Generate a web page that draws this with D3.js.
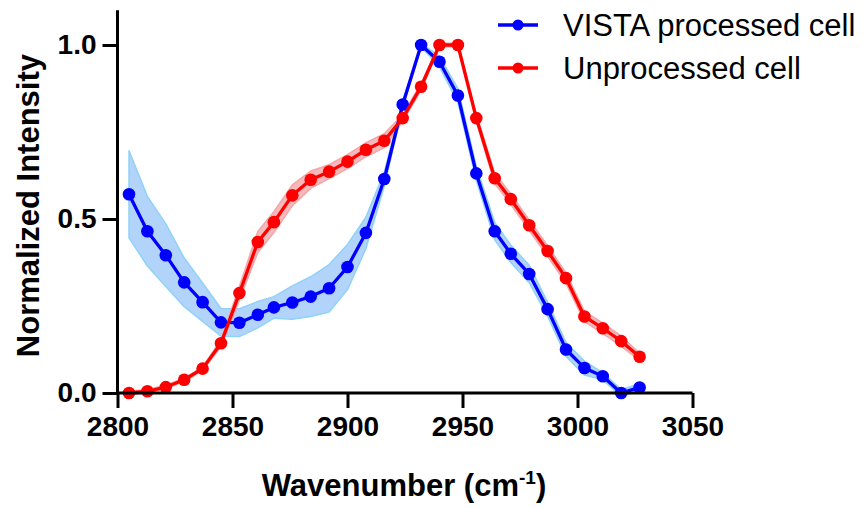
<!DOCTYPE html>
<html>
<head>
<meta charset="utf-8">
<script src="https://cdn.jsdelivr.net/npm/d3@7"></script>
<style>
  html, body { margin: 0; padding: 0; background: #fff; }
  svg { display: block; }
  text { font-family: "Liberation Sans", Arial, sans-serif; }
</style>
</head>
<body>
<svg id="chart" width="865" height="508"></svg>
<script>
// Raman spectra (C-H stretch region), mean ± SD
const wavenumbers = [2805, 2813, 2821, 2829, 2837, 2845, 2853, 2861, 2868, 2876,
                     2884, 2892, 2900, 2908, 2916, 2924, 2932, 2940, 2948, 2956,
                     2964, 2971, 2979, 2987, 2995, 3003, 3011, 3019, 3027];

const vistaMean = [0.571, 0.465, 0.396, 0.318, 0.261, 0.203, 0.202, 0.225, 0.246, 0.260,
                   0.277, 0.301, 0.362, 0.460, 0.615, 0.829, 1.000, 0.952, 0.855, 0.631,
                   0.465, 0.400, 0.342, 0.241, 0.125, 0.072, 0.048, 0.000, 0.016];
const vistaSD   = [0.125, 0.100, 0.090, 0.070, 0.055, 0.040, 0.040, 0.038, 0.031, 0.048,
                   0.057, 0.068, 0.065, 0.045, 0.020, 0.010, 0.005, 0.015, 0.020, 0.020,
                   0.025, 0.025, 0.025, 0.020, 0.020, 0.020, 0.010, 0.010, 0.010];

const rawMean = [0.000, 0.005, 0.017, 0.038, 0.070, 0.143, 0.287, 0.434, 0.491, 0.568,
                 0.613, 0.636, 0.665, 0.699, 0.725, 0.790, 0.880, 1.000, 1.000, 0.790,
                 0.617, 0.557, 0.482, 0.408, 0.330, 0.220, 0.186, 0.149, 0.104];
const rawSD   = [0.005, 0.005, 0.005, 0.005, 0.005, 0.010, 0.020, 0.030, 0.030, 0.030,
                 0.025, 0.020, 0.020, 0.020, 0.020, 0.010, 0.010, 0.005, 0.005, 0.010,
                 0.015, 0.015, 0.015, 0.015, 0.015, 0.015, 0.015, 0.015, 0.010];

const xTicks = [2800, 2850, 2900, 2950, 3000, 3050];
const yTicks = [0.0, 0.5, 1.0];
const seriesNames = ["VISTA processed cell", "Unprocessed cell"];

const svg = d3.select("#chart");

const x = d3.scaleLinear().domain([2800, 3050]).range([117.5, 692.5]);
const y = d3.scaleLinear().domain([0, 1.1]).range([393, 10.2]);

const series = [
  { name: seriesNames[0], mean: vistaMean, sd: vistaSD, line: "#0000ff",
    fill: "#b3d4fa", edge: "#8fd2f8" },
  { name: seriesNames[1], mean: rawMean, sd: rawSD, line: "#ff0000",
    fill: "#f5b9bb", edge: "#f4a6a8" }
];

const plot = svg.append("g");

// shaded SD bands
series.forEach(s => {
  const pts = wavenumbers.map((w, i) => ({ w, m: s.mean[i], sd: s.sd[i] }));
  const area = d3.area()
    .x(d => x(d.w))
    .y0(d => y(d.m - d.sd))
    .y1(d => y(d.m + d.sd));
  plot.append("path")
    .datum(pts)
    .attr("d", area)
    .attr("fill", s.fill)
    .attr("stroke", s.edge)
    .attr("stroke-width", 1.5)
    .attr("stroke-linejoin", "round");
});

// mean lines with markers
series.forEach(s => {
  const pts = wavenumbers.map((w, i) => ({ w, m: s.mean[i] }));
  const line = d3.line().x(d => x(d.w)).y(d => y(d.m));
  plot.append("path")
    .datum(pts)
    .attr("d", line)
    .attr("fill", "none")
    .attr("stroke", s.line)
    .attr("stroke-width", 3.3)
    .attr("stroke-linejoin", "round");
  plot.selectAll(null)
    .data(pts)
    .enter().append("circle")
    .attr("cx", d => x(d.w))
    .attr("cy", d => y(d.m))
    .attr("r", 6.3)
    .attr("fill", s.line);
});

// axes
const xAxis = d3.axisBottom(x).tickValues(xTicks).tickFormat(d3.format("d"))
  .tickSize(15).tickSizeOuter(0).tickPadding(6);
const yAxis = d3.axisLeft(y).tickValues(yTicks).tickFormat(d3.format(".1f"))
  .tickSize(15).tickSizeOuter(0).tickPadding(6);

const gx = svg.append("g").attr("transform", `translate(0,${y(0)})`).call(xAxis);
const gy = svg.append("g").attr("transform", `translate(${x(2800)},0)`).call(yAxis);

[gx, gy].forEach(g => {
  g.select(".domain").attr("stroke", "#000").attr("stroke-width", 3);
  g.selectAll(".tick line").attr("stroke", "#000").attr("stroke-width", 3);
  g.selectAll(".tick text")
    .attr("fill", "#000")
    .style("font-family", "'Liberation Sans', Arial, sans-serif")
    .style("font-weight", "bold")
    .style("font-size", "28px");
});
gx.select(".domain").attr("d", `M${x(2800)},0H${x(3050)}`);
gy.select(".domain").attr("d", `M0,${y(1.1)}V${y(0)}`);
gx.selectAll(".tick text").attr("dy", "0.8em");

// axis titles
svg.append("text")
  .attr("transform", `translate(39,${(y(0) + y(1.1)) / 2 + 4}) rotate(-90)`)
  .attr("text-anchor", "middle")
  .style("font-weight", "bold")
  .style("font-size", "31px")
  .text("Normalized Intensity");

const xt = svg.append("text")
  .attr("x", 404)
  .attr("y", 496)
  .attr("text-anchor", "middle")
  .style("font-weight", "bold")
  .style("font-size", "31px");
xt.append("tspan").text("Wavenumber (cm");
xt.append("tspan").attr("dy", -12).style("font-size", "19px").text("-1");
xt.append("tspan").attr("dy", 12).text(")");

// legend
const legend = svg.append("g");
series.forEach((s, i) => {
  const ly = 25 + i * 43;
  legend.append("line")
    .attr("x1", 498).attr("x2", 538).attr("y1", ly).attr("y2", ly)
    .attr("stroke", s.line).attr("stroke-width", 3.3);
  legend.append("circle")
    .attr("cx", 518).attr("cy", ly).attr("r", 5.5).attr("fill", s.line);
  legend.append("text")
    .attr("x", 563).attr("y", ly + 11)
    .style("font-size", "31px")
    .attr("fill", "#000")
    .text(s.name);
});
</script>
</body>
</html>
